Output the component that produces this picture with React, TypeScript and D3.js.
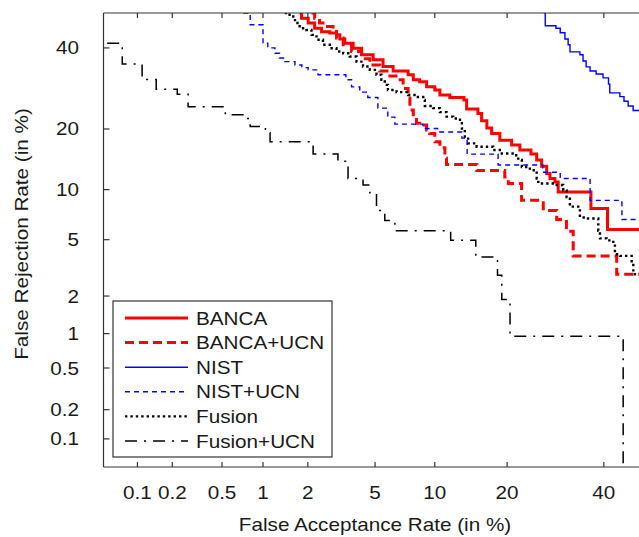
import React from 'react';
import * as d3 from 'd3';

const W = 639;
const H = 537;

// Axis ticks (in %)
const xTicks = [0.1, 0.2, 0.5, 1, 2, 5, 10, 20, 40];
const xTickLabels = ['0.1', '0.2', '0.5', '1', '2', '5', '10', '20', '40'];
const yTicks = [0.1, 0.2, 0.5, 1, 2, 5, 10, 20, 40];
const yTickLabels = ['0.1', '0.2', '0.5', '1', '2', '5', '10', '20', '40'];
const axisMin = 0.05; // %
const axisMax = 50; // %

// Series (FAR %, FRR %) — staircase corners
const bancaFAR = [1.77, 1.82, 2.01, 2.21, 2.44, 2.74, 3.01, 3.15, 3.37, 3.77, 4.21, 4.88, 5.52, 6.24, 7.44, 7.89, 8.48, 9.15, 10.0, 10.55, 11.7, 13.47, 13.83, 15.4, 15.94, 16.73, 17.47, 18.78, 20.78, 22.24, 24.29, 25.4, 26.38, 27.39, 28.06, 29.08, 29.77, 37.0, 40.86, 50];
const bancaFRR = [50, 48.5, 47.1, 45.6, 44.6, 44.2, 43.7, 42.5, 41.3, 39.9, 38.1, 36.7, 34.9, 33.7, 32.7, 31.4, 30.9, 29.6, 28.8, 27.6, 27.0, 26.4, 24.3, 23.3, 21.7, 20.2, 19.1, 17.8, 16.9, 16.0, 15.3, 14.3, 13.3, 12.2, 11.5, 11.0, 9.7, 7.8, 5.8, 5.8];

const bancaUcnFAR = [2.11, 2.21, 2.37, 2.55, 2.87, 3.01, 3.3, 3.69, 4.21, 4.68, 5.3, 6.0, 6.45, 7.02, 7.44, 7.59, 7.89, 8.18, 8.48, 9.15, 9.47, 10.0, 10.55, 11.12, 11.31, 15.25, 19.6, 20.2, 22.55, 26.7, 29.46, 31.53, 33.0, 43.05, 50];
const bancaUcnFRR = [50, 48.5, 47.1, 46.1, 45.1, 42.8, 40.9, 39.0, 37.0, 35.3, 33.7, 32.4, 31.4, 29.2, 26.9, 24.1, 22.5, 21.2, 20.8, 19.8, 19.1, 17.5, 16.4, 14.6, 13.6, 12.65, 11.7, 10.8, 8.7, 7.6, 6.7, 5.66, 3.9, 2.9, 2.9];

const nistFAR = [26.8, 27.1, 29.3, 30.2, 31.2, 31.9, 32.3, 34.5, 35.2, 35.9, 36.8, 38.2, 39.8, 41.1, 41.4, 43.8, 44.8, 45.8, 47.0, 50];
const nistFRR = [50, 46.3, 45.6, 44.3, 42.5, 40.9, 38.9, 38.1, 36.4, 34.8, 33.7, 32.9, 31.9, 30.3, 28.1, 27.2, 26.1, 25.0, 23.95, 23.95];

const nistUcnFAR = [0.72, 0.81, 1.0, 1.08, 1.21, 1.3, 1.41, 1.65, 1.83, 2.01, 2.32, 3.42, 3.69, 4.11, 4.56, 5.18, 5.85, 6.37, 8.8, 10.3, 13.2, 13.9, 18.5, 26.6, 30.2, 36.8, 44.3, 50];
const nistUcnFRR = [50, 46.6, 41.3, 40.0, 38.5, 37.2, 36.2, 35.3, 34.6, 34.0, 32.7, 31.4, 29.6, 28.3, 27.0, 24.5, 22.5, 21.0, 20.1, 19.4, 18.2, 15.3, 13.5, 12.4, 11.5, 8.7, 6.7, 6.7];

const fusionFAR = [1.41, 1.52, 1.65, 1.77, 1.96, 2.11, 2.27, 2.49, 2.74, 3.01, 3.3, 3.6, 3.94, 4.29, 4.68, 5.09, 5.41, 5.64, 5.86, 6.5, 7.44, 8.18, 8.82, 8.98, 9.82, 10.55, 11.31, 12.1, 12.96, 13.2, 13.59, 14.03, 15.22, 17.72, 18.78, 21.36, 21.95, 22.6, 24.1, 25.4, 25.71, 29.46, 30.85, 31.56, 32.28, 34.5, 36.02, 38.7, 39.09, 40.67, 42.23, 42.62, 43.84, 46.65, 47.05, 50];
const fusionFRR = [50, 49.0, 47.1, 45.6, 45.1, 43.7, 42.3, 40.9, 39.9, 39.0, 38.5, 37.6, 36.2, 34.9, 34.0, 32.7, 31.4, 30.1, 28.8, 28.3, 27.6, 27.1, 26.4, 25.0, 24.5, 23.6, 22.6, 22.2, 21.2, 20.1, 18.1, 17.2, 16.6, 16.0, 15.4, 15.1, 14.3, 13.2, 12.7, 11.5, 10.8, 10.6, 9.9, 9.1, 8.0, 6.9, 6.8, 5.7, 5.1, 4.95, 4.7, 4.0, 3.9, 3.45, 2.9, 2.9];

const fusionUcnFAR = [0.053, 0.073, 0.11, 0.146, 0.22, 0.27, 0.53, 0.73, 0.81, 1.04, 1.12, 2.16, 3.07, 3.52, 4.29, 4.68, 5.09, 5.64, 6.37, 11.8, 15.1, 18.4, 19.1, 20.5, 44.6];
const fusionUcnFRR = [41.3, 35.6, 31.5, 29.0, 27.8, 24.8, 23.0, 22.2, 20.5, 19.3, 17.5, 15.3, 14.1, 11.5, 10.6, 9.6, 7.6, 6.6, 5.7, 4.95, 3.83, 2.85, 1.88, 0.95, 0.05];

const seriesNames = ['BANCA', 'BANCA+UCN', 'NIST', 'NIST+UCN', 'Fusion', 'Fusion+UCN'];

function probit(p: number): number {
  const a = [-3.969683028665376e1, 2.209460984245205e2, -2.759285104469687e2, 1.38357751867269e2, -3.066479806614716e1, 2.506628277459239];
  const b = [-5.447609879822406e1, 1.615858368580409e2, -1.556989798598866e2, 6.680131188771972e1, -1.328068155288572e1];
  const c = [-7.784894002430293e-3, -3.223964580411365e-1, -2.400758277161838, -2.549732539343734, 4.374664141464968, 2.938163982698783];
  const d = [7.784695709041462e-3, 3.224671290700398e-1, 2.445134137142996, 3.754408661907416];
  const pl = 0.02425;
  if (p < pl) {
    const q = Math.sqrt(-2 * Math.log(p));
    return (((((c[0] * q + c[1]) * q + c[2]) * q + c[3]) * q + c[4]) * q + c[5]) / ((((d[0] * q + d[1]) * q + d[2]) * q + d[3]) * q + 1);
  }
  if (p <= 1 - pl) {
    const q = p - 0.5;
    const r = q * q;
    return ((((((a[0] * r + a[1]) * r + a[2]) * r + a[3]) * r + a[4]) * r + a[5]) * q) / (((((b[0] * r + b[1]) * r + b[2]) * r + b[3]) * r + b[4]) * r + 1);
  }
  const q = Math.sqrt(-2 * Math.log(1 - p));
  return -(((((c[0] * q + c[1]) * q + c[2]) * q + c[3]) * q + c[4]) * q + c[5]) / ((((d[0] * q + d[1]) * q + d[2]) * q + d[3]) * q + 1);
}

const LEFT = 103.5;
const TOP = 13;
const BOTTOM = 467;
const RIGHT = 645.5;

const xs = d3.scaleLinear().domain([probit(axisMin / 100), probit(axisMax / 100)]).range([104.5, 645.5]);
const ys = d3.scaleLinear().domain([probit(axisMin / 100), probit(axisMax / 100)]).range([466.5, 13]);
const X = (p: number) => xs(probit(p / 100));
const Y = (p: number) => ys(probit(p / 100));

const FONT = "'Liberation Sans', Arial, sans-serif";
const SX = 1.15;

type Style = { color: string; width: number; dash?: string };
const styles: Style[] = [
  { color: '#ff0000', width: 3 },
  { color: '#ff0000', width: 3, dash: '9,5' },
  { color: '#0000ff', width: 1.4 },
  { color: '#0000ff', width: 1.4, dash: '5,4' },
  { color: '#000000', width: 2.4, dash: '2.4,3' },
  { color: '#000000', width: 1.5, dash: '12,7,2,7' },
];

const seriesData: [number[], number[]][] = [
  [bancaFAR, bancaFRR],
  [bancaUcnFAR, bancaUcnFRR],
  [nistFAR, nistFRR],
  [nistUcnFAR, nistUcnFRR],
  [fusionFAR, fusionFRR],
  [fusionUcnFAR, fusionUcnFRR],
];

function SText({ x, y, children, anchor = 'middle', size = 18, sx = SX, rotate = 0 }: any) {
  return (
    <text
      transform={`translate(${x},${y}) rotate(${rotate}) scale(${sx},1)`}
      textAnchor={anchor}
      fontFamily={FONT}
      fontSize={size}
      fill="#1a1a1a"
    >
      {children}
    </text>
  );
}

export default function App() {
  const line = d3
    .line<[number, number]>()
    .x((d) => X(d[0]))
    .y((d) => Y(d[1]))
    .curve(d3.curveStepAfter);

  const legendX = 113;
  const legendY = 301;
  const legendW = 219;
  const legendH = 156;
  const rowY = (i: number) => 318 + i * 24.6;

  return (
    <svg width={W} height={H} style={{ position: 'absolute', left: 0, top: 0, background: '#fff' }}>
      <defs>
        <clipPath id="plotclip">
          <rect x={LEFT} y={TOP} width={RIGHT - LEFT} height={BOTTOM - TOP} />
        </clipPath>
      </defs>
      <rect x={0} y={0} width={W} height={H} fill="#fff" />

      {/* series */}
      <g clipPath="url(#plotclip)">
        {seriesData.map(([fa, fr], i) => {
          const pts = fa.map((v, k) => [v, fr[k]] as [number, number]);
          const s = styles[i];
          return (
            <path
              key={i}
              d={line(pts) || ''}
              fill="none"
              stroke={s.color}
              strokeWidth={s.width}
              strokeDasharray={s.dash}
              strokeLinejoin="miter"
            />
          );
        })}
      </g>

      {/* axes box */}
      <g stroke="#333" strokeWidth={1.2} fill="none">
        <line x1={LEFT} y1={TOP} x2={W + 10} y2={TOP} />
        <line x1={LEFT} y1={BOTTOM} x2={W + 10} y2={BOTTOM} />
        <line x1={LEFT} y1={TOP} x2={LEFT} y2={BOTTOM} />
        {xTicks.map((t) => (
          <g key={'xt' + t}>
            <line x1={X(t)} x2={X(t)} y1={BOTTOM} y2={BOTTOM - 5} />
            <line x1={X(t)} x2={X(t)} y1={TOP} y2={TOP + 5} />
          </g>
        ))}
        {yTicks.map((t) => (
          <line key={'yt' + t} x1={LEFT} x2={LEFT + 6} y1={Y(t)} y2={Y(t)} />
        ))}
      </g>

      {/* tick labels */}
      {xTicks.map((t, i) => (
        <SText key={'xl' + t} x={X(t)} y={499}>
          {xTickLabels[i]}
        </SText>
      ))}
      {yTicks.map((t, i) => (
        <SText key={'yl' + t} x={79} y={Y(t) + 6.5} anchor="end">
          {yTickLabels[i]}
        </SText>
      ))}

      {/* axis titles */}
      <SText x={375} y={531}>False Acceptance Rate (in %)</SText>
      <SText x={28} y={234} rotate={-90}>False Rejection Rate (in %)</SText>

      {/* legend */}
      <rect x={legendX} y={legendY} width={legendW} height={legendH} fill="#fff" stroke="#333" strokeWidth={1.2} />
      {seriesNames.map((name, i) => {
        const s = styles[i];
        return (
          <g key={name}>
            <line
              x1={125}
              x2={188}
              y1={rowY(i)}
              y2={rowY(i)}
              stroke={s.color}
              strokeWidth={s.width}
              strokeDasharray={s.dash}
            />
            <SText x={196} y={rowY(i) + 6.5} anchor="start">
              {name}
            </SText>
          </g>
        );
      })}
    </svg>
  );
}
